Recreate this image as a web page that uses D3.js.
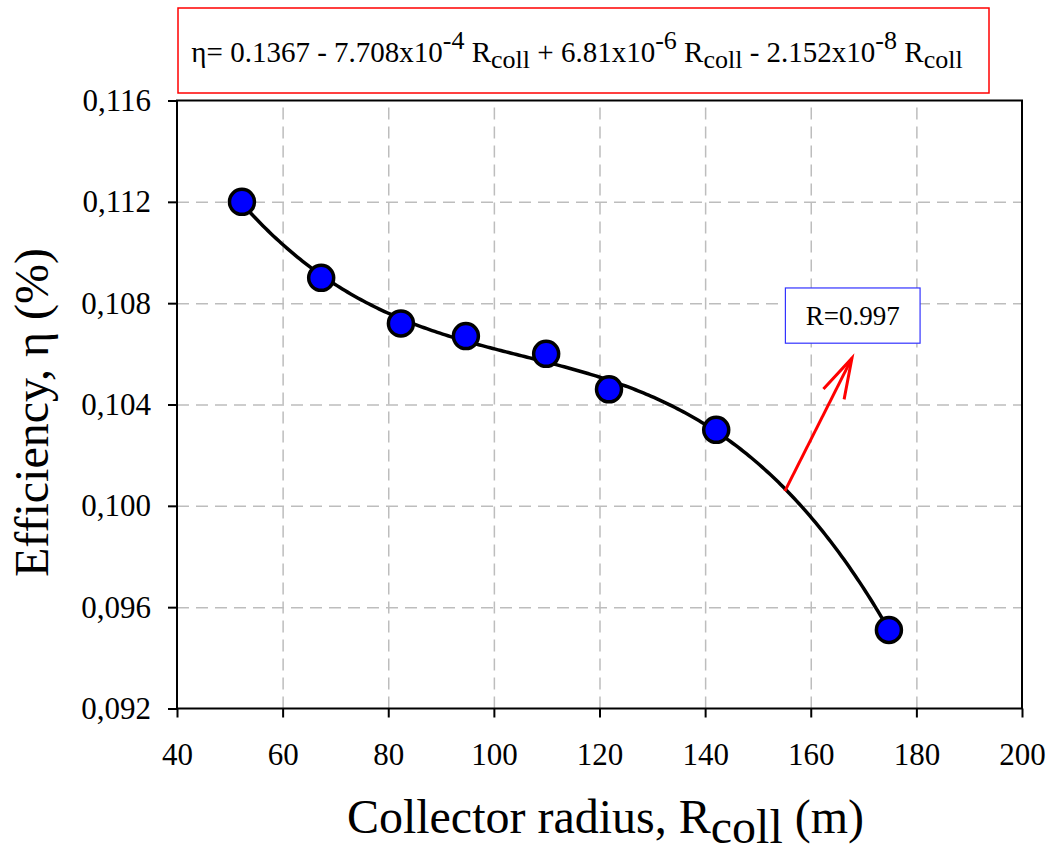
<!DOCTYPE html>
<html>
<head>
<meta charset="utf-8">
<script src="https://cdn.jsdelivr.net/npm/d3@7"></script>
<style>
  body { margin: 0; background: #fff; }
  svg text { font-family: "Liberation Serif", "Times New Roman", serif; fill: #000; }
  .grid line { stroke: #bdbdbd; stroke-width: 1.5; stroke-dasharray: 12,7; }
  .grid path { display: none; }
</style>
</head>
<body>
<div id="wrapper"></div>
<script>
// data
const radius = [52.3, 67.3, 82.4, 94.7, 109.9, 121.8, 142.1, 174.8]
const efficiency = [0.1120, 0.1090, 0.1072, 0.1067, 0.1060, 0.1046, 0.1030, 0.0951]
// cubic fit printed in the chart: eta = a0 + a1 R + a2 R^2 + a3 R^3
const fitCoefs = [0.1367, -7.708e-4, 6.81e-6, -2.152e-8]
const xTicks = [40, 60, 80, 100, 120, 140, 160, 180, 200]
const yTicks = [0.092, 0.096, 0.100, 0.104, 0.108, 0.112, 0.116]
const rValue = "R=0.997"

const SERIF = "Liberation Serif"

function drawChart() {
  const dataset = radius.map((r, i) => ({ r: r, eta: efficiency[i] }))
  const xAccessor = d => d.r
  const yAccessor = d => d.eta

  //dimensions
  let dimensions = {
    width: 1050,
    height: 855,
    margin: { top: 100.5, right: 28, bottom: 146.5, left: 177 },
  }
  dimensions.boundedWidth = dimensions.width - dimensions.margin.left - dimensions.margin.right
  dimensions.boundedHeight = dimensions.height - dimensions.margin.top - dimensions.margin.bottom

  const wrapper = d3.select("#wrapper")
    .append("svg")
    .attr("width", dimensions.width)
    .attr("height", dimensions.height)
    .attr("font-family", SERIF)

  const bounds = wrapper.append("g")
    .attr("transform", `translate(${dimensions.margin.left},${dimensions.margin.top})`)

  //scales
  const xScale = d3.scaleLinear()
    .domain([40, 200])
    .range([0, dimensions.boundedWidth])
  const yScale = d3.scaleLinear()
    .domain([0.092, 0.116])
    .range([dimensions.boundedHeight, 0])

  //grids
  bounds.append("g")
    .attr("class", "grid")
    .call(d3.axisLeft(yScale).tickValues(yTicks.slice(1, -1))
      .tickSize(-dimensions.boundedWidth).tickFormat(""))
  bounds.append("g")
    .attr("class", "grid")
    .attr("transform", `translate(0,${dimensions.boundedHeight})`)
    .call(d3.axisBottom(xScale).tickValues(xTicks.slice(1, -1))
      .tickSize(-dimensions.boundedHeight).tickFormat(""))

  //frame
  bounds.append("rect")
    .attr("width", dimensions.boundedWidth)
    .attr("height", dimensions.boundedHeight)
    .attr("fill", "none")
    .attr("stroke", "#000")
    .attr("stroke-width", 2)

  //axes
  const commaFmt = d => d3.format(".3f")(d).replace(".", ",")
  const yAxis = bounds.append("g")
    .call(d3.axisLeft(yScale).tickValues(yTicks).tickSize(9).tickPadding(17).tickFormat(commaFmt))
  const xAxis = bounds.append("g")
    .attr("transform", `translate(0,${dimensions.boundedHeight})`)
    .call(d3.axisBottom(xScale).tickValues(xTicks).tickSize(9).tickPadding(20))
  ;[xAxis, yAxis].forEach(ax => {
    ax.attr("font-family", SERIF).attr("font-size", 31)
    ax.select(".domain").remove()
    ax.selectAll(".tick line").attr("stroke", "#000").attr("stroke-width", 2)
    ax.selectAll(".tick text")
      .attr("font-family", SERIF)
      .style("font-family", SERIF)
      .style("font-size", "31px")
      .attr("fill", "#000")
  })
  xAxis.selectAll(".tick text").attr("dy", "0.9em")

  //fit curve from the printed coefficients
  const poly = r => fitCoefs.reduce((s, c, i) => s + c * Math.pow(r, i), 0)
  const rExtent = d3.extent(dataset, xAccessor)
  const curvePts = d3.range(rExtent[0], rExtent[1], 0.5).concat([rExtent[1]])
  const lineGenerator = d3.line()
    .x(r => xScale(r))
    .y(r => yScale(poly(r)))
  bounds.append("path")
    .attr("d", lineGenerator(curvePts))
    .attr("fill", "none")
    .attr("stroke", "#000")
    .attr("stroke-width", 3.5)

  //points
  bounds.append("g").selectAll("circle")
    .data(dataset)
    .join("circle")
    .attr("cx", d => xScale(xAccessor(d)))
    .attr("cy", d => yScale(yAccessor(d)))
    .attr("r", 12.5)
    .attr("fill", "#0000ff")
    .attr("stroke", "#000")
    .attr("stroke-width", 3.5)

  //R annotation box and arrow (positions in data units)
  const rBox = { x0: 155.2, x1: 180.7, y0: 0.1086, y1: 0.10642 }
  bounds.append("rect")
    .attr("x", xScale(rBox.x0))
    .attr("y", yScale(rBox.y0))
    .attr("width", xScale(rBox.x1) - xScale(rBox.x0))
    .attr("height", yScale(rBox.y1) - yScale(rBox.y0))
    .attr("fill", "#fff")
    .attr("stroke", "#3333ff")
    .attr("stroke-width", 1.2)
  bounds.append("text")
    .attr("x", (xScale(rBox.x0) + xScale(rBox.x1)) / 2)
    .attr("y", (yScale(rBox.y0) + yScale(rBox.y1)) / 2 + 9)
    .attr("text-anchor", "middle")
    .style("font-size", "27px")
    .text(rValue)

  const arrowFrom = [155.1, 0.10058]
  const arrowTo = [167.8, 0.10583]
  const ax0 = xScale(arrowFrom[0]), ay0 = yScale(arrowFrom[1])
  const ax1 = xScale(arrowTo[0]), ay1 = yScale(arrowTo[1])
  const ang = Math.atan2(ay0 - ay1, ax0 - ax1)
  const headLen = 42, headAng = 16 * Math.PI / 180
  const arrow = bounds.append("g")
    .attr("stroke", "#ff0000")
    .attr("stroke-width", 3)
    .attr("fill", "none")
  arrow.append("line")
    .attr("x1", ax0).attr("y1", ay0).attr("x2", ax1).attr("y2", ay1)
  arrow.append("path")
    .attr("d", d3.line()([
      [ax1 + headLen * Math.cos(ang + headAng), ay1 + headLen * Math.sin(ang + headAng)],
      [ax1, ay1],
      [ax1 + headLen * Math.cos(ang - headAng), ay1 + headLen * Math.sin(ang - headAng)],
    ]))

  //equation box
  wrapper.append("rect")
    .attr("x", 178).attr("y", 8)
    .attr("width", 811).attr("height", 85)
    .attr("fill", "#fff")
    .attr("stroke", "#ff0000")
    .attr("stroke-width", 1.5)
  const eqParts = [
    ["η= 0.1367 - 7.708x10", 0], ["-4", -1], [" R", 0], ["coll", 1],
    [" + 6.81x10", 0], ["-6", -1], [" R", 0], ["coll", 1],
    [" - 2.152x10", 0], ["-8", -1], [" R", 0], ["coll", 1],
  ]
  const eq = wrapper.append("text")
    .attr("x", 577)
    .attr("y", 62)
    .attr("text-anchor", "middle")
    .style("font-size", "29px")
  let shift = 0
  eqParts.forEach(([t, level]) => {
    const target = level === -1 ? -13 : level === 1 ? 6 : 0
    eq.append("tspan")
      .attr("dy", target - shift)
      .style("font-size", level === 0 ? "29px" : "26px")
      .text(t)
    shift = target
  })

  //axis labels
  const xLabel = wrapper.append("text")
    .attr("x", dimensions.margin.left + dimensions.boundedWidth / 2 + 6)
    .attr("y", 833)
    .attr("text-anchor", "middle")
    .style("font-size", "48px")
  xLabel.append("tspan").text("Collector radius, R")
  xLabel.append("tspan").attr("dy", 10).text("coll")
  xLabel.append("tspan").attr("dy", -10).text(" (m)")

  wrapper.append("text")
    .attr("transform", `translate(48,${dimensions.margin.top + dimensions.boundedHeight / 2 + 8}) rotate(-90)`)
    .attr("text-anchor", "middle")
    .style("font-size", "48px")
    .text("Efficiency, η (%)")
}
drawChart()
</script>
</body>
</html>
